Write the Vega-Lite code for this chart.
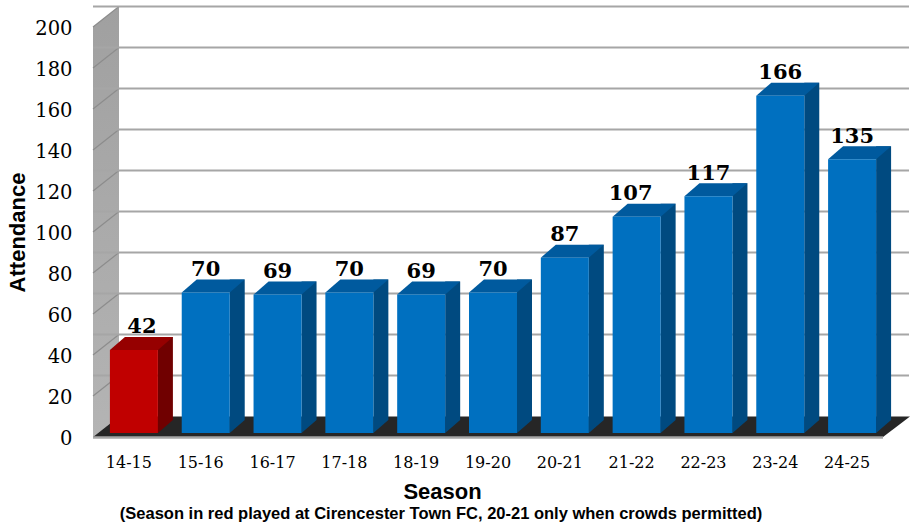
{
"$schema":"https://vega.github.io/schema/vega-lite/v6.json",
"width":790,"height":410,
"autosize":"none",
"padding":{"left":93,"top":27,"right":32,"bottom":85},
"background":"white",
"datasets":{
"seasons":[
{"Season":"14-15","Attendance":42,"Ground":"Cirencester Town FC"},
{"Season":"15-16","Attendance":70,"Ground":"Home"},
{"Season":"16-17","Attendance":69,"Ground":"Home"},
{"Season":"17-18","Attendance":70,"Ground":"Home"},
{"Season":"18-19","Attendance":69,"Ground":"Home"},
{"Season":"19-20","Attendance":70,"Ground":"Home"},
{"Season":"20-21","Attendance":87,"Ground":"Home"},
{"Season":"21-22","Attendance":107,"Ground":"Home"},
{"Season":"22-23","Attendance":117,"Ground":"Home"},
{"Season":"23-24","Attendance":166,"Ground":"Home"},
{"Season":"24-25","Attendance":135,"Ground":"Home"}],
"grid":[{"tick":0},{"tick":20},{"tick":40},{"tick":60},{"tick":80},{"tick":100},{"tick":120},{"tick":140},{"tick":160},{"tick":180},{"tick":200}]
},
"title":{"text":"(Season in red played at Cirencester Town FC, 20-21 only when crowds permitted)","orient":"bottom","anchor":"middle","font":"Liberation Sans","fontWeight":"bold","fontSize":16.5,"color":"black","offset":4,"dx":-47},
"data":{"name":"seasons"},
"encoding":{
"x":{"field":"Season","type":"nominal","sort":null,"scale":{"paddingInner":0,"paddingOuter":0},
"axis":{"domain":false,"ticks":false,"grid":false,"labelAngle":0,"labelFont":"DejaVu Serif","labelFontSize":16,"labelColor":"black","labelPadding":17,"title":"Season","titleFont":"Liberation Sans","titleFontSize":22,"titleFontWeight":"bold","titleColor":"black","titlePadding":11,"titleX":349}},
"y":{"type":"quantitative","scale":{"domain":[0,200],"nice":false},
"axis":{"values":[0,20,40,60,80,100,120,140,160,180,200],"domain":false,"ticks":false,"grid":false,"labelFont":"DejaVu Serif","labelFontSize":19.5,"labelColor":"black","labelPadding":21,"labelOffset":1.5,"title":"Attendance","titleFont":"Liberation Sans","titleFontSize":22,"titleFontWeight":"bold","titleColor":"black","titlePadding":5,"titleY":205}}
},
"layer":[
{"data":{"values":[{"tick":0}]},
"mark":{"type":"point","filled":true,"size":4,"opacity":1,"strokeWidth":0,"fill":{"gradient":"linear","x1":0,"y1":0,"x2":0,"y2":1,"stops":[{"offset":0,"color":"#a0a0a0"},{"offset":1,"color":"#b4b4b4"}]},"shape":"M0 0L0 -410L26 -430.5L26 -20.5Z"},
"encoding":{"x":{"datum":"14-15","bandPosition":0},"y":{"field":"tick","type":"quantitative"}}},
{"data":{"values":[{"tick":0}]},
"mark":{"type":"point","filled":true,"size":4,"opacity":1,"fill":"#262626","strokeWidth":0,"shape":"M0 0L26 -20.5L817 -20.5L790 0Z"},
"encoding":{"x":{"datum":"14-15","bandPosition":0},"y":{"field":"tick","type":"quantitative"}}},
{"data":{"name":"grid"},"transform":[{"filter":"datum.tick>0"}],
"mark":{"type":"point","filled":false,"size":4,"opacity":1,"stroke":"#8c8c8c","strokeWidth":1.2,"shape":"M0 0L26 -20.5"},
"encoding":{"x":{"datum":"14-15","bandPosition":0},"y":{"field":"tick","type":"quantitative"}}},
{"data":{"name":"grid"},"transform":[{"filter":"datum.tick>0"}],
"mark":{"type":"rule","color":"#a6a6a6","strokeWidth":2,"xOffset":26,"x2Offset":27,"yOffset":-20.5},
"encoding":{"x":null,"y":{"field":"tick","type":"quantitative"}}},
{"data":{"values":[{"tick":0}]},
"mark":{"type":"rule","color":"#a6a6a6","strokeWidth":2.5,"yOffset":0.5},
"encoding":{"x":null,"y":{"field":"tick","type":"quantitative"}}},
{"mark":{"type":"bar","opacity":1,"size":15,"xOffset":36.5,"yOffset":-14,"y2Offset":-13},
"encoding":{"y":{"field":"Attendance","type":"quantitative"},"y2":{"datum":2},
"color":{"condition":{"test":"datum.Ground!='Home'","value":"#700000"},"value":"#004a80"}}},
{"mark":{"type":"point","filled":true,"size":4,"opacity":1,"strokeWidth":0,"shape":"M0 0L48 0L63 -13L15 -13Z","xOffset":-19,"yOffset":-1},
"encoding":{"y":{"field":"Attendance","type":"quantitative"},
"color":{"condition":{"test":"datum.Ground!='Home'","value":"#960000"},"value":"#005a9e"}}},
{"mark":{"type":"point","filled":true,"size":4,"opacity":1,"strokeWidth":0,"shape":"M0 0L0 -13L15 -13Z","xOffset":29},
"encoding":{"y":{"datum":2},
"color":{"condition":{"test":"datum.Ground!='Home'","value":"#700000"},"value":"#004a80"}}},
{"mark":{"type":"bar","opacity":1,"size":48,"xOffset":5,"yOffset":-1},
"encoding":{"y":{"field":"Attendance","type":"quantitative"},"y2":{"datum":2},
"color":{"condition":{"test":"datum.Ground!='Home'","value":"#c00000"},"value":"#0070c0"}}},
{"mark":{"type":"text","font":"DejaVu Serif","fontWeight":"bold","fontSize":21,"color":"black","baseline":"alphabetic","dy":-17.5,"dx":{"expr":"datum.Season=='14-15'?13:datum.Season=='21-22'?-1:5"}},
"encoding":{"y":{"field":"Attendance","type":"quantitative"},"text":{"field":"Attendance","type":"quantitative"}}}
],
"config":{"view":{"stroke":null}}
}
